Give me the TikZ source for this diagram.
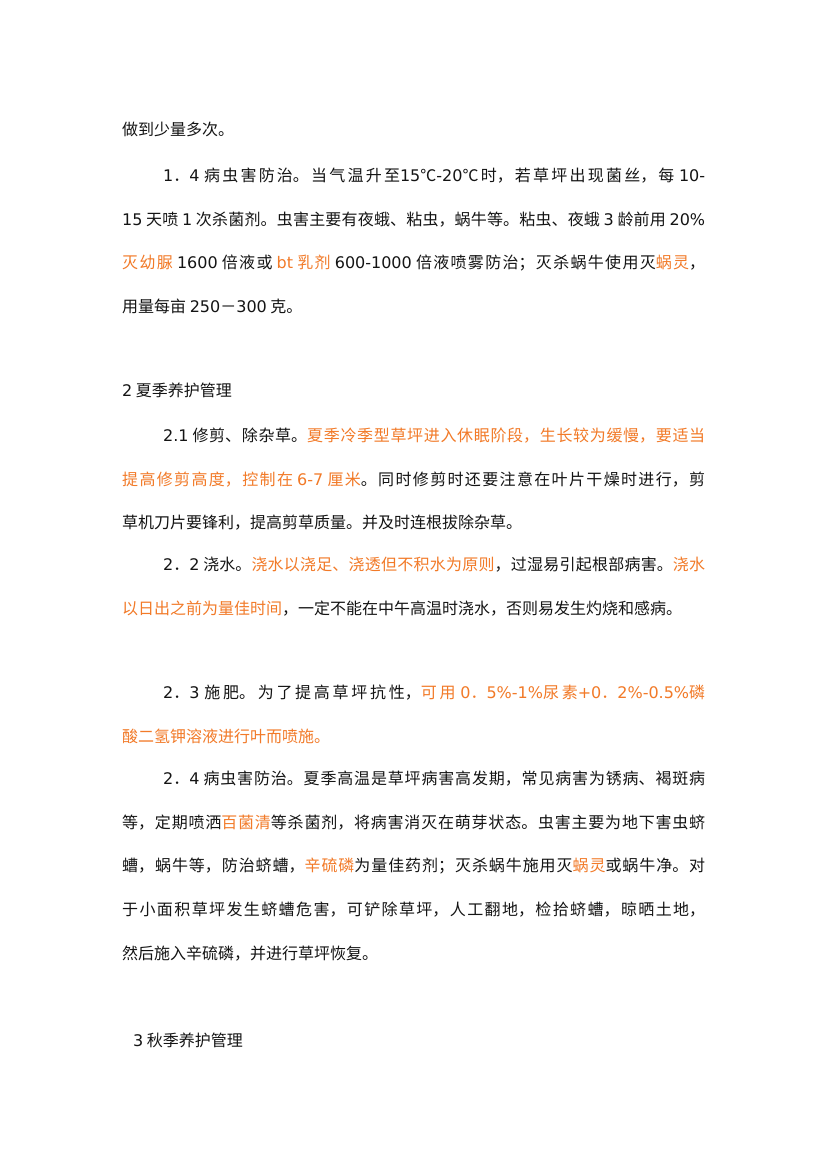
\documentclass[tikz,border=0pt]{standalone}
\usepackage{fontspec}
\setmainfont{Noto Sans CJK SC}
\newfontfamily\latfont{DejaVu Sans}
\newcommand{\lat}[1]{{\latfont #1}}
\definecolor{hl}{RGB}{242,122,40}
\definecolor{ink}{RGB}{20,20,20}
\newcommand{\hl}{\color{hl}}
\XeTeXlinebreaklocale "zh"
\XeTeXlinebreakskip=0pt plus 4pt
\setlength{\parindent}{0pt}

\begin{document}
\begin{tikzpicture}[x=1pt,y=-1pt,
    para/.style={anchor=north west, inner sep=0pt, text width=583pt, align=justify,
      text=ink, font={\fontsize{16}{43.6}\selectfont}},
    head/.style={anchor=north west, inner sep=0pt, text=ink, font={\fontsize{16}{20}\selectfont}}]
  \fill[white] (0,0) rectangle (827,1169);
  \useasboundingbox (0,0) rectangle (827,1169);

  \node[para] (p0) at (122,122) {做到少量多次。};
  \node[para] (p14) at (122,168) {\hspace*{41pt}\lat{1}．\lat{4} 病虫害防治。当气温升至\lat{15}℃\lat{-20}℃时，若草坪出现菌丝，每 \lat{10-}\linebreak
    \lat{15} 天喷 \lat{1} 次杀菌剂。虫害主要有夜蛾、粘虫，蜗牛等。粘虫、夜蛾 \lat{3} 龄前用 \lat{20\%}\linebreak
    {\hl 灭幼脲} \lat{1600} 倍液或 {\hl\lat{bt} 乳剂} \lat{600-1000} 倍液喷雾防治；灭杀蜗牛使用灭{\hl 蜗灵}，\linebreak
    用量每亩 \lat{250}－\lat{300} 克。};

  \node[head] (h2) at (122,383) {\lat{2} 夏季养护管理};
  \node[para] (p21) at (122,428) {\hspace*{41pt}\lat{2.1} 修剪、除杂草。{\hl 夏季冷季型草坪进入休眠阶段，生长较为缓慢，要适当\linebreak
    提高修剪高度，控制在 \lat{6-7} 厘米}。同时修剪时还要注意在叶片干燥时进行，剪\linebreak
    草机刀片要锋利，提高剪草质量。并及时连根拔除杂草。};
  \node[para] (p22) at (122,557) {\hspace*{41pt}\lat{2}．\lat{2} 浇水。{\hl 浇水以浇足、浇透但不积水为原则}，过湿易引起根部病害。{\hl 浇水\linebreak
    以日出之前为量佳时间}，一定不能在中午高温时浇水，否则易发生灼烧和感病。};
  \node[para] (p23) at (122,685) {\hspace*{41pt}\lat{2}．\lat{3} 施肥。为了提高草坪抗性，{\hl 可用 \lat{0}．\lat{5\%-1\%}尿素\lat{+0}．\lat{2\%-0.5\%}磷\linebreak
    酸二氢钾溶液进行叶而喷施。}};
  \node[para] (p24) at (122,771) {\hspace*{41pt}\lat{2}．\lat{4} 病虫害防治。夏季高温是草坪病害高发期，常见病害为锈病、褐斑病\linebreak
    等，定期喷洒{\hl 百菌清}等杀菌剂，将病害消灭在萌芽状态。虫害主要为地下害虫蛴\linebreak
    螬，蜗牛等，防治蛴螬，{\hl 辛硫磷}为量佳药剂；灭杀蜗牛施用灭{\hl 蜗灵}或蜗牛净。对\linebreak
    于小面积草坪发生蛴螬危害，可铲除草坪，人工翻地，检拾蛴螬，晾晒土地，\linebreak
    然后施入辛硫磷，并进行草坪恢复。};

  \node[head] (h3) at (133,1033) {\lat{3} 秋季养护管理};
\end{tikzpicture}
\end{document}
